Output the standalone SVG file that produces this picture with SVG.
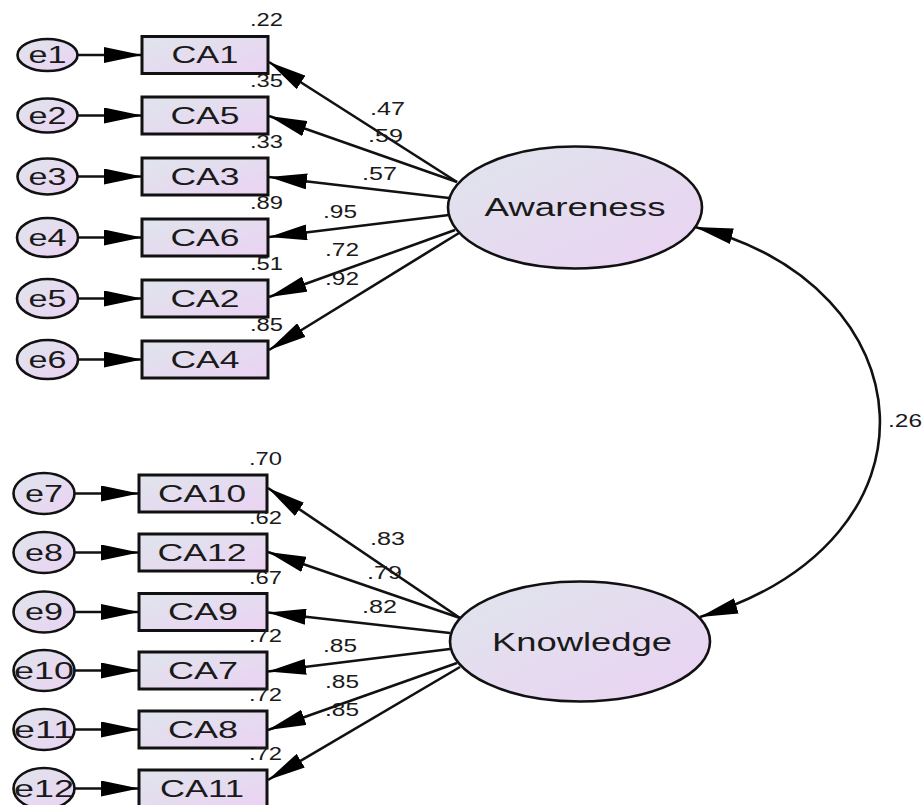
<svg xmlns="http://www.w3.org/2000/svg" width="924" height="805" viewBox="0 0 924 805">
<style>
.box{stroke:#111;stroke-width:3;fill:url(#g)}
.ell{stroke:#111;stroke-width:2.6;fill:url(#g)}
.lbl{font-family:"Liberation Sans",Arial,sans-serif;font-size:23px;fill:#1a1a1a;text-anchor:middle}
.lat{font-family:"Liberation Sans",Arial,sans-serif;font-size:26px;fill:#1a1a1a;text-anchor:middle}
.num{font-family:"Liberation Sans",Arial,sans-serif;font-size:18px;fill:#1a1a1a}
.smc{text-anchor:end}
.ln{stroke:#111;stroke-width:2.6;fill:none;marker-end:url(#ah)}
</style>
<defs>
<linearGradient id="g" x1="0" y1="0" x2="1" y2="1">
<stop offset="0" stop-color="#dfe5ec"/>
<stop offset="1" stop-color="#ebd2f3"/>
</linearGradient>
<marker id="ah" markerUnits="userSpaceOnUse" viewBox="0 0 38 16" refX="38" refY="8" markerWidth="38" markerHeight="16" orient="auto-start-reverse">
<path d="M0,0 L38,8 L0,16 z" fill="#000"/>
</marker>
</defs>
<rect width="924" height="805" fill="#fff"/>

<g id="connectors">
<line class="ln" x1="78" y1="55" x2="142" y2="55"/>
<line class="ln" x1="78" y1="115.5" x2="142" y2="115.5"/>
<line class="ln" x1="78" y1="176.5" x2="142" y2="176.5"/>
<line class="ln" x1="78" y1="237.5" x2="142" y2="237.5"/>
<line class="ln" x1="78" y1="298.5" x2="142" y2="298.5"/>
<line class="ln" x1="78" y1="359.5" x2="142" y2="359.5"/>
<line class="ln" x1="74.5" y1="493.5" x2="139" y2="493.5"/>
<line class="ln" x1="74.5" y1="552.5" x2="139" y2="552.5"/>
<line class="ln" x1="74.5" y1="612" x2="139" y2="612"/>
<line class="ln" x1="74.5" y1="670.5" x2="139" y2="670.5"/>
<line class="ln" x1="74.5" y1="729.5" x2="139" y2="729.5"/>
<line class="ln" x1="74.5" y1="788.5" x2="139" y2="788.5"/>

<line class="ln" x1="457" y1="182" x2="269" y2="62"/>
<line class="ln" x1="457" y1="182" x2="269" y2="116"/>
<line class="ln" x1="449" y1="198" x2="269" y2="177"/>
<line class="ln" x1="449" y1="215" x2="269" y2="237"/>
<line class="ln" x1="455" y1="230" x2="269" y2="297"/>
<line class="ln" x1="459" y1="233" x2="269" y2="350"/>

<line class="ln" x1="460" y1="618" x2="268" y2="488"/>
<line class="ln" x1="460" y1="618" x2="268" y2="552"/>
<line class="ln" x1="450" y1="633" x2="268" y2="612.5"/>
<line class="ln" x1="450" y1="649" x2="268" y2="671.5"/>
<line class="ln" x1="457" y1="663" x2="268" y2="730"/>
<line class="ln" x1="460" y1="667" x2="268" y2="780"/>

<path class="ln" style="marker-start:url(#ah)" d="M695,227 C928,285 953,540 700,617"/>
</g>

<g id="e1"><ellipse class="ell" cx="47.5" cy="55" rx="30" ry="16"/><text class="lbl" x="47.5" y="63" textLength="38" lengthAdjust="spacingAndGlyphs">e1</text></g>
<g id="e2"><ellipse class="ell" cx="47.5" cy="115.5" rx="30" ry="17"/><text class="lbl" x="47.5" y="123.5" textLength="38" lengthAdjust="spacingAndGlyphs">e2</text></g>
<g id="e3"><ellipse class="ell" cx="47.5" cy="176.5" rx="30" ry="18"/><text class="lbl" x="47.5" y="184.5" textLength="38" lengthAdjust="spacingAndGlyphs">e3</text></g>
<g id="e4"><ellipse class="ell" cx="47.5" cy="237.5" rx="30.5" ry="19.5"/><text class="lbl" x="47.5" y="245.5" textLength="38" lengthAdjust="spacingAndGlyphs">e4</text></g>
<g id="e5"><ellipse class="ell" cx="47.5" cy="298.5" rx="30.5" ry="19.5"/><text class="lbl" x="47.5" y="306.5" textLength="38" lengthAdjust="spacingAndGlyphs">e5</text></g>
<g id="e6"><ellipse class="ell" cx="47.5" cy="359.5" rx="30.5" ry="19.5"/><text class="lbl" x="47.5" y="367.5" textLength="38" lengthAdjust="spacingAndGlyphs">e6</text></g>
<g id="e7"><ellipse class="ell" cx="44" cy="493.5" rx="30.5" ry="20.5"/><text class="lbl" x="44" y="501.5" textLength="38" lengthAdjust="spacingAndGlyphs">e7</text></g>
<g id="e8"><ellipse class="ell" cx="44" cy="552.5" rx="30.5" ry="20.5"/><text class="lbl" x="44" y="560.5" textLength="38" lengthAdjust="spacingAndGlyphs">e8</text></g>
<g id="e9"><ellipse class="ell" cx="44" cy="612" rx="30.5" ry="20.5"/><text class="lbl" x="44" y="620" textLength="38" lengthAdjust="spacingAndGlyphs">e9</text></g>
<g id="e10"><ellipse class="ell" cx="44" cy="670.5" rx="30.5" ry="20.5"/><text class="lbl" x="44" y="678.5" textLength="60" lengthAdjust="spacingAndGlyphs">e10</text></g>
<g id="e11"><ellipse class="ell" cx="44" cy="729.5" rx="30.5" ry="20.5"/><text class="lbl" x="44" y="737.5" textLength="60" lengthAdjust="spacingAndGlyphs">e11</text></g>
<g id="e12"><ellipse class="ell" cx="44" cy="788.5" rx="30.5" ry="20.5"/><text class="lbl" x="44" y="796.5" textLength="60" lengthAdjust="spacingAndGlyphs">e12</text></g>

<g id="CA1"><rect class="box" x="142" y="36.5" width="126" height="37"/><text class="lbl" x="205" y="63" textLength="67" lengthAdjust="spacingAndGlyphs">CA1</text><text class="num smc" x="283" y="26" textLength="33" lengthAdjust="spacingAndGlyphs">.22</text></g>
<g id="CA5"><rect class="box" x="142" y="97" width="126" height="37"/><text class="lbl" x="205" y="123.5" textLength="69" lengthAdjust="spacingAndGlyphs">CA5</text><text class="num smc" x="283" y="87" textLength="33" lengthAdjust="spacingAndGlyphs">.35</text></g>
<g id="CA3"><rect class="box" x="142" y="158" width="126" height="37"/><text class="lbl" x="205" y="184.5" textLength="69" lengthAdjust="spacingAndGlyphs">CA3</text><text class="num smc" x="283" y="148" textLength="33" lengthAdjust="spacingAndGlyphs">.33</text></g>
<g id="CA6"><rect class="box" x="142" y="219" width="126" height="37"/><text class="lbl" x="205" y="245.5" textLength="69" lengthAdjust="spacingAndGlyphs">CA6</text><text class="num smc" x="283" y="209" textLength="33" lengthAdjust="spacingAndGlyphs">.89</text></g>
<g id="CA2"><rect class="box" x="142" y="280" width="126" height="37"/><text class="lbl" x="205" y="306.5" textLength="69" lengthAdjust="spacingAndGlyphs">CA2</text><text class="num smc" x="283" y="270" textLength="33" lengthAdjust="spacingAndGlyphs">.51</text></g>
<g id="CA4"><rect class="box" x="142" y="341" width="126" height="37"/><text class="lbl" x="205" y="367.5" textLength="69" lengthAdjust="spacingAndGlyphs">CA4</text><text class="num smc" x="283" y="331" textLength="33" lengthAdjust="spacingAndGlyphs">.85</text></g>

<g id="CA10"><rect class="box" x="139" y="475" width="128" height="37"/><text class="lbl" x="202" y="501.5" textLength="88" lengthAdjust="spacingAndGlyphs">CA10</text><text class="num smc" x="282" y="465" textLength="33" lengthAdjust="spacingAndGlyphs">.70</text></g>
<g id="CA12"><rect class="box" x="139" y="534" width="128" height="37"/><text class="lbl" x="202" y="560.5" textLength="89" lengthAdjust="spacingAndGlyphs">CA12</text><text class="num smc" x="282" y="524" textLength="33" lengthAdjust="spacingAndGlyphs">.62</text></g>
<g id="CA9"><rect class="box" x="139" y="593.5" width="128" height="37"/><text class="lbl" x="203" y="620" textLength="70" lengthAdjust="spacingAndGlyphs">CA9</text><text class="num smc" x="282" y="583.5" textLength="33" lengthAdjust="spacingAndGlyphs">.67</text></g>
<g id="CA7"><rect class="box" x="139" y="652" width="128" height="37"/><text class="lbl" x="203" y="678.5" textLength="70" lengthAdjust="spacingAndGlyphs">CA7</text><text class="num smc" x="282" y="642" textLength="33" lengthAdjust="spacingAndGlyphs">.72</text></g>
<g id="CA8"><rect class="box" x="139" y="711" width="128" height="37"/><text class="lbl" x="203" y="737.5" textLength="70" lengthAdjust="spacingAndGlyphs">CA8</text><text class="num smc" x="282" y="701" textLength="33" lengthAdjust="spacingAndGlyphs">.72</text></g>
<g id="CA11"><rect class="box" x="139" y="770" width="128" height="37"/><text class="lbl" x="202" y="796.5" textLength="84" lengthAdjust="spacingAndGlyphs">CA11</text><text class="num smc" x="282" y="760" textLength="33" lengthAdjust="spacingAndGlyphs">.72</text></g>

<g id="Awareness"><ellipse class="ell" cx="575" cy="207.5" rx="127" ry="61"/><text class="lat" x="575" y="216" textLength="181" lengthAdjust="spacingAndGlyphs">Awareness</text></g>
<g id="Knowledge"><ellipse class="ell" cx="580" cy="641.5" rx="130" ry="60"/><text class="lat" x="582" y="651" textLength="180" lengthAdjust="spacingAndGlyphs">Knowledge</text></g>

<g id="coefficients">
<text class="num" x="370" y="115" textLength="35" lengthAdjust="spacingAndGlyphs">.47</text>
<text class="num" x="368" y="142" textLength="35" lengthAdjust="spacingAndGlyphs">.59</text>
<text class="num" x="362" y="180" textLength="35" lengthAdjust="spacingAndGlyphs">.57</text>
<text class="num" x="323" y="218" textLength="34" lengthAdjust="spacingAndGlyphs">.95</text>
<text class="num" x="325" y="256" textLength="34" lengthAdjust="spacingAndGlyphs">.72</text>
<text class="num" x="325" y="285" textLength="34" lengthAdjust="spacingAndGlyphs">.92</text>
<text class="num" x="370" y="545" textLength="35" lengthAdjust="spacingAndGlyphs">.83</text>
<text class="num" x="367" y="579" textLength="35" lengthAdjust="spacingAndGlyphs">.79</text>
<text class="num" x="362" y="613" textLength="35" lengthAdjust="spacingAndGlyphs">.82</text>
<text class="num" x="323" y="652" textLength="34" lengthAdjust="spacingAndGlyphs">.85</text>
<text class="num" x="325" y="688" textLength="34" lengthAdjust="spacingAndGlyphs">.85</text>
<text class="num" x="325" y="716" textLength="34" lengthAdjust="spacingAndGlyphs">.85</text>
<text class="num" x="888" y="427" textLength="34" lengthAdjust="spacingAndGlyphs">.26</text>
</g>
</svg>
